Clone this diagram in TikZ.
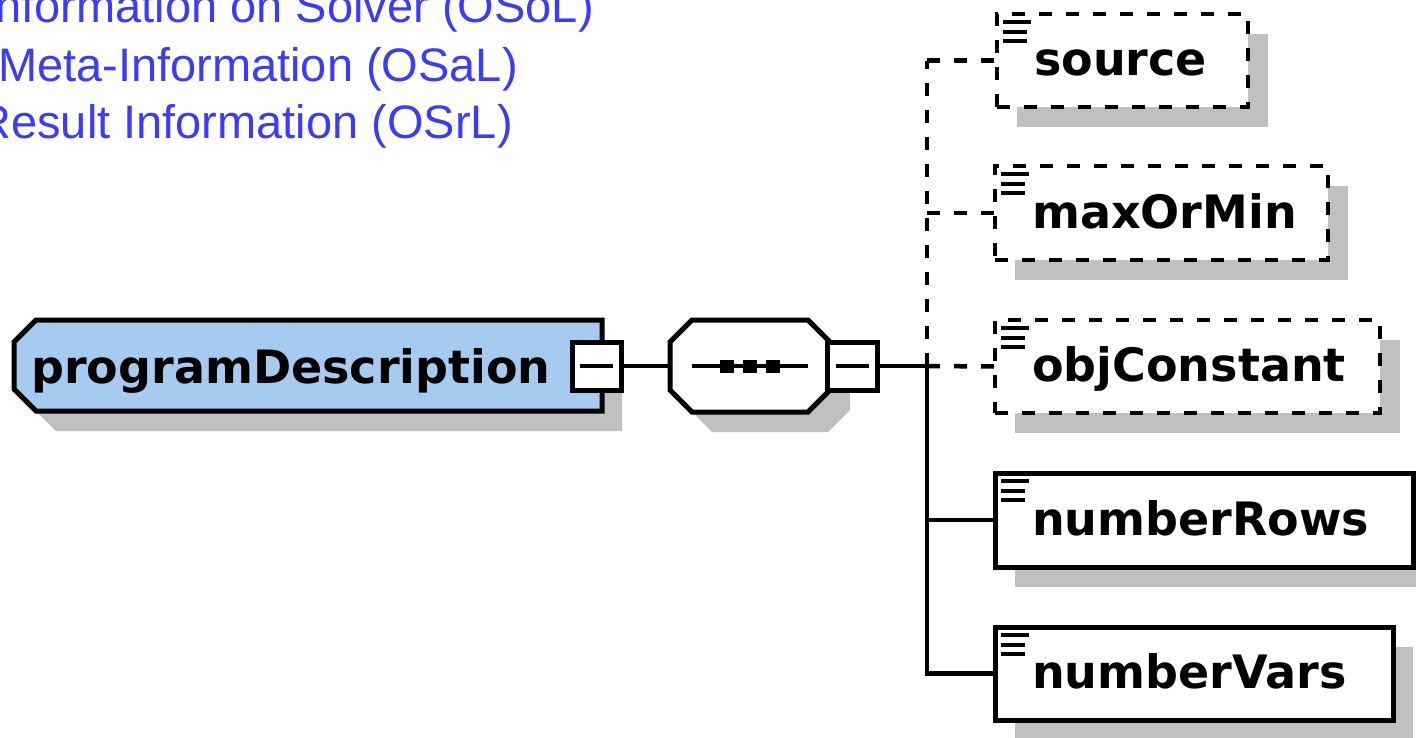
\documentclass[tikz,border=0pt]{standalone}
\usepackage{fontspec}
\usetikzlibrary{calc}
\newfontfamily\blfont{Liberation Sans}
\newfontfamily\lbfont{DejaVu Sans}
\definecolor{osblue}{RGB}{60,60,245}
\definecolor{pdblue}{RGB}{166,202,240}
\definecolor{shgray}{RGB}{192,192,192}
\newcommand\childbox[7]{%
  \fill[shgray] (#2+20,#3+20) rectangle (#4+20,#5+20);
  \node[#6, minimum width=#4-#2, minimum height=#5-#3] (#1) at ({(#2+#4)/2},{(#3+#5)/2}) {};
  \draw[line width=4pt] ($(#1.north west)+(6,8)$) -- ++(28,0);
  \draw[line width=4pt] ($(#1.north west)+(6,18)$) -- ++(24,0);
  \draw[line width=4pt] ($(#1.north west)+(6,27)$) -- ++(24,0);
  \node[lbl] (#1-t) at ($(#1.west)+(37,15)$) {#7};
}
\begin{document}
\begin{tikzpicture}[x=1pt,y=-1pt,
  cbox/.style={draw, fill=white, inner sep=0pt, outer sep=0pt, line width=5pt},
  dbox/.style={cbox, line width=4.5pt, dash pattern=on 13pt off 14pt},
  lbl/.style={font=\lbfont\bfseries\fontsize{46}{50}\selectfont, inner sep=0pt, anchor=base west},
  bl/.style={font=\blfont\fontsize{47}{55}\selectfont, text=osblue, inner sep=0pt, anchor=base east},
  conn/.style={line width=4.5pt},
  dconn/.style={conn, dash pattern=on 13pt off 14pt},
  mbox/.style={draw, fill=white, inner sep=0pt, outer sep=0pt, minimum height=48pt, line width=5pt},
  hold/.style={draw=none, inner sep=0pt, outer sep=0pt}]
\useasboundingbox (0,0) rectangle (1416,737);
\fill[white] (0,0) rectangle (1416,737);
\clip (0,0) rectangle (1416,737);

% title lines
\node[bl] (t1) at (594,22) {Information on Solver (OSoL)};
\node[bl] (t2) at (518,81) {Meta-Information (OSaL)};
\node[bl] (t3) at (513,138) {Result Information (OSrL)};

% programDescription
\node[hold, minimum width=588, minimum height=91] (pd) at (308,365.5) {};
\fill[shgray] ($(pd.north west)+(42,20)$) -- ($(pd.north east)+(20,20)$) -- ($(pd.south east)+(20,20)$)
  -- ($(pd.south west)+(42,20)$) -- ($(pd.south west)+(20,-2)$) -- ($(pd.north west)+(20,42)$) -- cycle;
\draw[line width=5pt, fill=pdblue] ($(pd.north west)+(22,0)$) -- (pd.north east) -- (pd.south east)
  -- ($(pd.south west)+(22,0)$) -- ($(pd.south west)+(0,-22)$) -- ($(pd.north west)+(0,22)$) -- cycle;
\node[lbl] (pd-t) at (31,383) {programDescription};
\node[mbox, minimum width=49] (pdm) at (596.5,366) {};
\draw[line width=4.5pt] ($(pdm.center)+(-16.5,0)$) -- ++(33,0);

% sequence compositor
\node[hold, minimum width=160, minimum height=92] (seq) at (750,366) {};
\fill[shgray] ($(seq.north west)+(42,20)$) -- ($(seq.north east)+(-2,20)$) -- ($(seq.north east)+(20,42)$)
  -- ($(seq.south east)+(20,-2)$) -- ($(seq.south east)+(-2,20)$) -- ($(seq.south west)+(42,20)$)
  -- ($(seq.south west)+(20,-2)$) -- ($(seq.north west)+(20,42)$) -- cycle;
\draw[line width=5pt, fill=white] ($(seq.north west)+(22,0)$) -- ($(seq.north east)+(-22,0)$) -- ($(seq.north east)+(0,22)$)
  -- ($(seq.south east)+(0,-22)$) -- ($(seq.south east)+(-22,0)$) -- ($(seq.south west)+(22,0)$)
  -- ($(seq.south west)+(0,-22)$) -- ($(seq.north west)+(0,22)$) -- cycle;
\draw[line width=4.5pt] ($(seq.center)+(-58,0)$) -- ++(116,0);
\foreach \dx in {-23,0,23} {
  \fill ($(seq.center)+(\dx-7,-6.5)$) rectangle ++(14,13);
}
\node[mbox, minimum width=50] (seqm) at (852,366) {};
\draw[line width=4.5pt] ($(seqm.center)+(-16.5,0)$) -- ++(33,0);
\draw[conn] (pdm.east) -- (seq.west);

% children
\childbox{source}{997}{14}{1248}{107}{dbox}{source}
\childbox{maxOrMin}{995}{166}{1328}{260}{dbox}{maxOrMin}
\childbox{objConstant}{995}{320}{1380}{413}{dbox}{objConstant}
\childbox{numberRows}{995}{473}{1413}{567}{cbox}{numberRows}
\childbox{numberVars}{995}{627}{1393}{720}{cbox}{numberVars}

% connectors
\coordinate (br) at (927,366);
\draw[conn] (seqm.east) -- (br);
\draw[dconn] (br) -- (br |- source.west);
\draw[dconn] (br |- source.west) -- (source.west);
\draw[dconn] (br |- maxOrMin.west) -- (maxOrMin.west);
\draw[dconn] (br) -- (objConstant.west);
\draw[conn] (br) -- (br |- numberVars.west) -- (numberVars.west);
\draw[conn] (br |- numberRows.west) -- (numberRows.west);
\end{tikzpicture}
\end{document}
